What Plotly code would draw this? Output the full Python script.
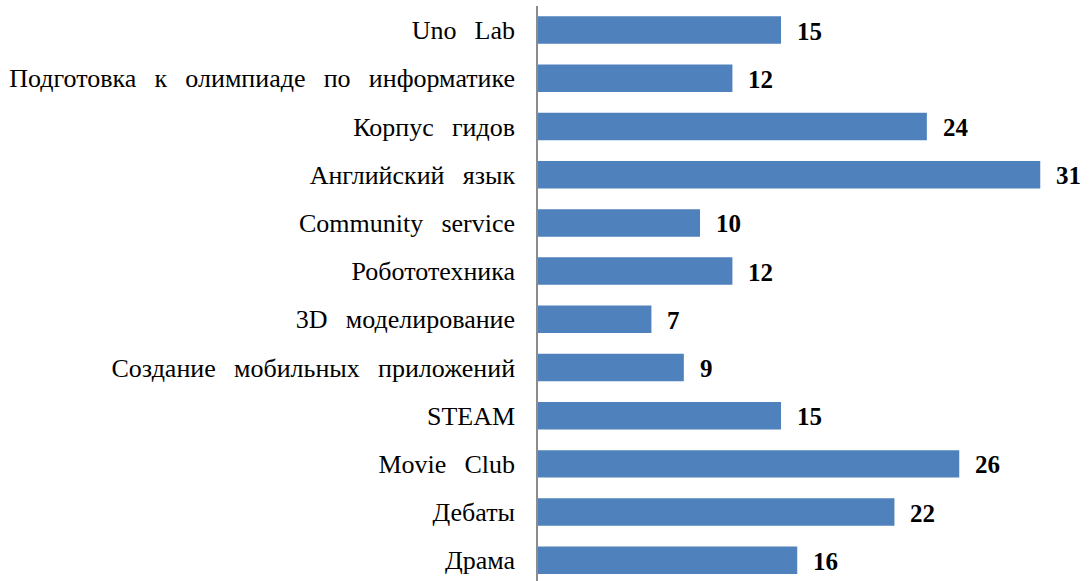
import plotly.graph_objects as go

categories = ["Uno Lab", "Подготовка к олимпиаде по информатике", "Корпус гидов",
              "Английский язык", "Community service", "Робототехника",
              "3D моделирование", "Создание мобильных приложений", "STEAM",
              "Movie Club", "Дебаты", "Драма"]
values = [15, 12, 24, 31, 10, 12, 7, 9, 15, 26, 22, 16]

FONT = "Liberation Serif"
# wide LaTeX-like word spacing in the tick labels
ticktext = [c.replace(" ", "\u00a0\u2009\u00a0") for c in categories]

fig = go.Figure()
fig.add_trace(go.Bar(
    x=values, y=categories, orientation="h",
    marker=dict(color="#4F81BD", line=dict(width=0)),
    width=0.57, hoverinfo="skip",
))
for c, v in zip(categories, values):
    fig.add_annotation(x=v, y=c, text=f"<b>{v}</b>", showarrow=False,
                       xanchor="left", xshift=14, yshift=-1,
                       font=dict(family=FONT, size=25, color="black"))

fig.update_layout(
    width=1090, height=581,
    margin=dict(l=538, r=0, t=6, b=0),
    plot_bgcolor="white", paper_bgcolor="white",
    showlegend=False,
    font=dict(family=FONT, size=26, color="black"),
    xaxis=dict(range=[0, 34.07], visible=False, fixedrange=True),
    yaxis=dict(categoryorder="array", categoryarray=categories,
               tickmode="array", tickvals=categories, ticktext=ticktext,
               range=[11.43, -0.5], showline=True, linecolor="#8c8c8c",
               linewidth=1.5, ticks="", showgrid=False, ticklabelstandoff=16,
               tickfont=dict(family=FONT, size=26, color="black")),
)
fig.write_html("out.html", config={"displayModeBar": False},
               post_script="document.body.style.margin='0';")
